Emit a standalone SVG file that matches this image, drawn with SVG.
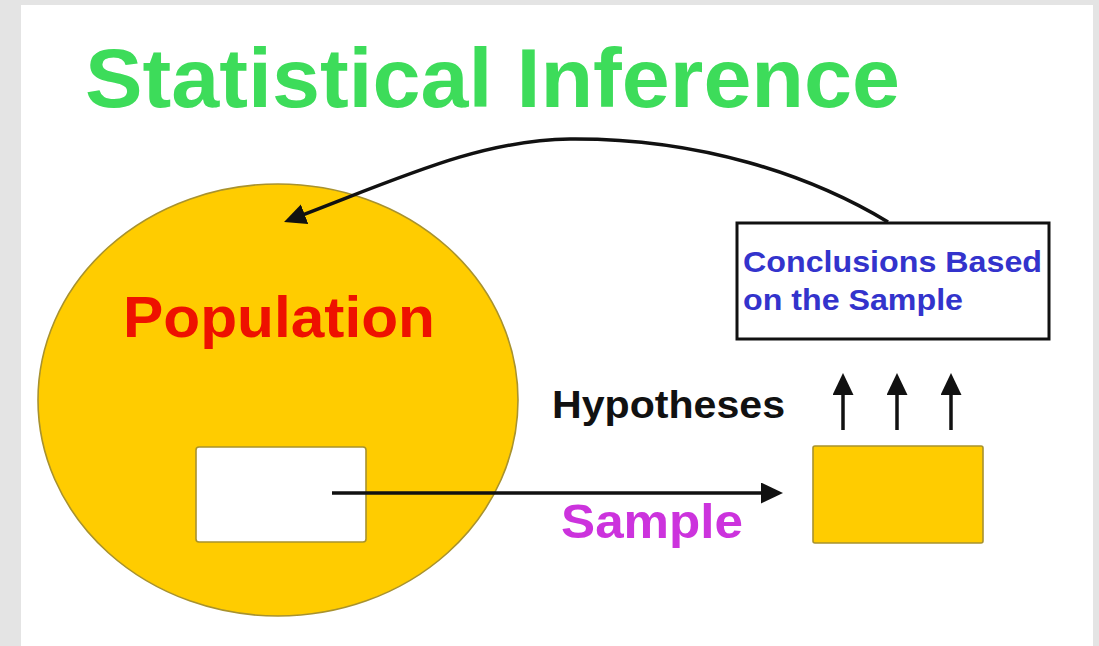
<svg xmlns="http://www.w3.org/2000/svg" width="1099" height="646" viewBox="0 0 1099 646">
<style>
.b{font-family:"Liberation Sans",Arial,sans-serif;font-weight:bold}
.line{fill:none;stroke:#111;stroke-width:3.5}
.yel{fill:#ffcc00;stroke:#a8922e;stroke-width:1.6}
</style>
<defs>
<marker id="ah" markerUnits="userSpaceOnUse" markerWidth="24" markerHeight="24" refX="12" refY="10.5" orient="auto">
<path d="M0,0 L22,10.5 L0,21 Z" fill="#111"/>
</marker>
</defs>
<rect x="0" y="0" width="1099" height="646" fill="#e4e4e4"/>
<rect x="21" y="5" width="1072" height="641" fill="#ffffff"/>
<g id="title"><text class="b" x="85" y="107" font-size="84" fill="#3ddc5a" textLength="815" lengthAdjust="spacingAndGlyphs">Statistical Inference</text></g>
<g id="population">
<ellipse class="yel" cx="278" cy="400" rx="240" ry="216"/>
<text class="b" x="123" y="337" font-size="57" fill="#ee1100" textLength="312" lengthAdjust="spacingAndGlyphs">Population</text>
</g>
<g id="sample-in-population"><rect x="196" y="447" width="170" height="95" rx="3" fill="#ffffff" stroke="#a8922e" stroke-width="1.6"/></g>
<g id="sample"><rect class="yel" x="813" y="446" width="170" height="97" rx="2"/></g>
<g id="conclusions">
<rect x="737" y="223" width="312" height="116" fill="#ffffff" stroke="#111" stroke-width="3"/>
<text class="b" x="743" y="272" font-size="30" fill="#3333cc" textLength="299" lengthAdjust="spacingAndGlyphs">Conclusions Based</text>
<text class="b" x="743" y="310" font-size="30" fill="#3333cc" textLength="220" lengthAdjust="spacingAndGlyphs">on the Sample</text>
</g>
<g id="labels">
<text class="b" x="552" y="418" font-size="38" fill="#111" textLength="233" lengthAdjust="spacingAndGlyphs">Hypotheses</text>
<text class="b" x="561" y="538" font-size="48" fill="#cc33dd" textLength="182" lengthAdjust="spacingAndGlyphs">Sample</text>
</g>
<g id="connectors">
<path class="line" d="M332 493 L773 493" marker-end="url(#ah)"/>
<path class="line" d="M843 430 L843 383" marker-end="url(#ah)"/>
<path class="line" d="M897 430 L897 383" marker-end="url(#ah)"/>
<path class="line" d="M951 430 L951 383" marker-end="url(#ah)"/>
<path class="line" d="M888 222 C 810 175, 700 138, 570 139 C 480 140, 400 178, 293.4 218.5" marker-end="url(#ah)"/>
</g>
</svg>
